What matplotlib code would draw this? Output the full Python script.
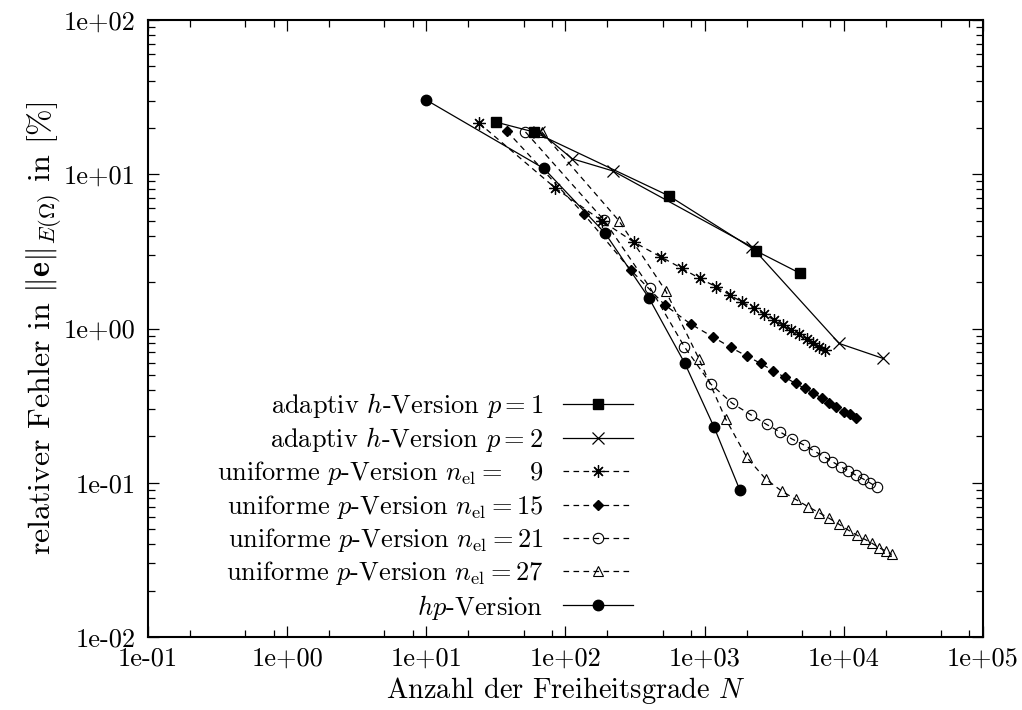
import numpy as np
import matplotlib
matplotlib.use('Agg')
import matplotlib.pyplot as plt
from matplotlib.ticker import LogLocator, NullFormatter

plt.rcParams['font.family'] = 'serif'
plt.rcParams['font.serif'] = ['cmr10']
plt.rcParams['mathtext.fontset'] = 'cm'
plt.rcParams['axes.unicode_minus'] = False

# adaptiv h-Version p = 1
h1_N = [31.6, 59.3, 556, 2355, 4853]
h1_err = [21.8, 18.8, 7.23, 3.18, 2.28]

# adaptiv h-Version p = 2
h2_N = [65, 112, 220, 2173, 9270, 19150]
h2_err = [18.9, 12.6, 10.5, 3.39, 0.80, 0.64]

# uniforme p-Version n_el = 9
p9_N = [23.9, 84, 182, 312, 482, 689, 924, 1204, 1516, 1871,
        2256, 2675, 3140, 3627, 4160, 4775, 5395, 6023, 6653, 7345]
p9_err = [21.5, 8.18, 5.0, 3.62, 2.92, 2.45, 2.11, 1.87, 1.65, 1.48,
          1.35, 1.24, 1.14, 1.05, 0.98, 0.92, 0.86, 0.81, 0.76, 0.73]

# uniforme p-Version n_el = 15
p15_N = [37.9, 136, 295, 518, 792, 1140, 1536, 2000, 2521, 3105,
         3767, 4498, 5248, 6023, 6925, 7839, 8856, 10040, 11160, 12330]
p15_err = [19.05, 5.50, 2.39, 1.42, 1.07, 0.885, 0.755, 0.664, 0.595, 0.532,
           0.483, 0.441, 0.409, 0.382, 0.354, 0.330, 0.308, 0.289, 0.278, 0.262]

# uniforme p-Version n_el = 21
p21_N = [51.6, 189, 408, 715, 1109, 1582, 2148, 2784, 3470, 4253,
         5163, 6120, 7180, 8290, 9470, 10730, 12190, 13760, 15380, 17190]
p21_err = [18.8, 5.05, 1.82, 0.762, 0.436, 0.327, 0.276, 0.239, 0.214, 0.192,
           0.176, 0.161, 0.148, 0.137, 0.127, 0.120, 0.112, 0.106, 0.100, 0.0942]

# uniforme p-Version n_el = 27
p27_N = [67.3, 242, 524, 914, 1414, 2010, 2739, 3568, 4498, 5536,
         6637, 7834, 9248, 10730, 12340, 14160, 15970, 17930, 20040, 22130]
p27_err = [18.9, 5.00, 1.76, 0.631, 0.260, 0.146, 0.106, 0.0885, 0.0781, 0.070,
           0.064, 0.0589, 0.0538, 0.0494, 0.0459, 0.0430, 0.0405, 0.0379, 0.0361, 0.0343]

# hp-Version
hp_N = [10.0, 70, 193, 399, 721, 1170, 1791]
hp_err = [30.3, 10.9, 4.14, 1.57, 0.594, 0.229, 0.0897]

x_ticks = [1e-1, 1e0, 1e1, 1e2, 1e3, 1e4, 1e5]
x_tick_labels = ['1e-01', '1e+00', '1e+01', '1e+02', '1e+03', '1e+04', '1e+05']
y_ticks = [1e-2, 1e-1, 1e0, 1e1, 1e2]
y_tick_labels = ['1e-02', '1e-01', '1e+00', '1e+01', '1e+02']

fig = plt.figure(figsize=(10.22, 7.10), dpi=100)
ax = fig.add_axes([0.1448, 0.1028, 0.8170, 0.8690])

lw = 0.9
dash = (0, (4.5, 3.5))
ax.plot(h1_N, h1_err, '-', color='k', lw=lw, marker='s', ms=6.5,
        label=r'adaptiv $h$-Version $p = 1$')
ax.plot(h2_N, h2_err, '-', color='k', lw=lw, marker='x', ms=8, mew=0.9,
        label=r'adaptiv $h$-Version $p = 2$')
ax.plot(p9_N, p9_err, color='k', ls=dash, lw=lw, marker=(8, 2, 0), ms=9, mew=0.9,
        label=r'uniforme $p$-Version $n_{\mathrm{el}} =\ \ \ 9$')
ax.plot(p15_N, p15_err, color='k', ls=dash, lw=lw, marker='D', ms=5,
        label=r'uniforme $p$-Version $n_{\mathrm{el}} = 15$')
ax.plot(p21_N, p21_err, color='k', ls=dash, lw=lw, marker='o', ms=7.5, mfc='none', mew=0.8,
        label=r'uniforme $p$-Version $n_{\mathrm{el}} = 21$')
ax.plot(p27_N, p27_err, color='k', ls=dash, lw=lw, marker='^', ms=7.5, mfc='none', mew=0.8,
        label=r'uniforme $p$-Version $n_{\mathrm{el}} = 27$')
ax.plot(hp_N, hp_err, '-', color='k', lw=lw, marker='o', ms=7.5,
        label=r'$hp$-Version')

ax.set_xscale('log')
ax.set_yscale('log')
ax.set_xlim(1e-1, 1e5)
ax.set_ylim(1e-2, 1e2)
ax.set_xticks(x_ticks, x_tick_labels)
ax.set_yticks(y_ticks, y_tick_labels)
ax.xaxis.set_minor_locator(LogLocator(base=10, subs=(2, 5, 8), numticks=100))
ax.yaxis.set_minor_locator(LogLocator(base=10, subs=np.arange(2, 10), numticks=100))
ax.xaxis.set_minor_formatter(NullFormatter())
ax.yaxis.set_minor_formatter(NullFormatter())

ax.tick_params(which='both', direction='in', top=True, right=True, width=0.9)
ax.tick_params(which='major', length=8, labelsize=19)
ax.tick_params(which='minor', length=5)
ax.tick_params(axis='x', pad=7)
ax.tick_params(axis='y', pad=9)
for s in ax.spines.values():
    s.set_linewidth(1.5)

ax.set_xlabel(r'Anzahl der Freiheitsgrade $N$', fontsize=20.5, labelpad=3)
ax.set_ylabel(r'relativer Fehler in $\|\mathbf{e}\|_{E(\Omega)}$ in [%]', fontsize=23, labelpad=0)

ax.legend(loc='lower right', bbox_to_anchor=(0.581, 0.025), frameon=False,
          markerfirst=False, handlelength=2.65, handletextpad=0.75,
          labelspacing=0.2, borderpad=0, borderaxespad=0, fontsize=19)

fig.savefig('out.png', dpi=100)
